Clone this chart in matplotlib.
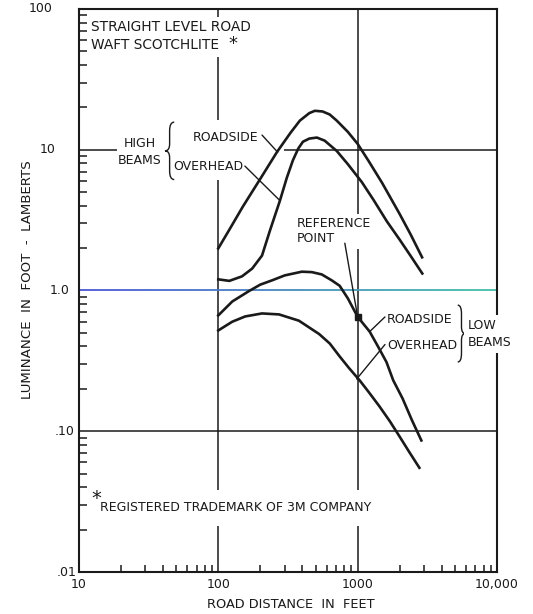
import matplotlib
matplotlib.use("Agg")
import matplotlib.pyplot as plt
import numpy as np
from matplotlib.path import Path
from matplotlib.patches import PathPatch, Rectangle
from matplotlib.collections import LineCollection
from matplotlib.colors import to_rgb

# high beams, roadside mounted sign
high_road_ft = [100, 120, 150, 200, 265, 330, 385, 450, 493, 560, 630, 708, 850, 1000, 1200, 1500, 2000, 2400, 2900]
high_road_lum = [1.99, 2.7, 3.94, 6.2, 9.7, 13.2, 16.1, 18.2, 18.9, 18.7, 17.8, 16.1, 13.4, 11.0, 8.3, 5.8, 3.5, 2.5, 1.72]

# high beams, overhead sign
high_over_ft = [100, 120, 148, 175, 206, 235, 277, 310, 343, 375, 405, 450, 510, 580, 708, 850, 1070, 1300, 1620, 2000, 2400, 2910]
high_over_lum = [1.2, 1.17, 1.26, 1.43, 1.77, 2.67, 4.35, 6.3, 8.4, 10.2, 11.4, 12.0, 12.2, 11.6, 9.8, 7.9, 5.9, 4.4, 3.1, 2.3, 1.76, 1.32]

# low beams, roadside
low_road_ft = [100, 126, 166, 200, 243, 300, 398, 470, 553, 652, 743, 850, 1000, 1220, 1400, 1610, 1800, 2100, 2450, 2865]
low_road_lum = [0.665, 0.835, 0.99, 1.1, 1.18, 1.28, 1.36, 1.35, 1.30, 1.18, 1.08, 0.88, 0.65, 0.51, 0.40, 0.31, 0.23, 0.171, 0.12, 0.086]

# low beams, overhead
low_over_ft = [100, 126, 156, 206, 273, 379, 530, 631, 743, 870, 1033, 1200, 1435, 1700, 1995, 2350, 2773]
low_over_lum = [0.52, 0.60, 0.654, 0.687, 0.676, 0.61, 0.49, 0.42, 0.34, 0.28, 0.23, 0.19, 0.150, 0.118, 0.092, 0.071, 0.055]

ref_point = (1000, 0.65)

x_ticks = [10, 100, 1000, 10000]
x_labels = ["10", "100", "1000", "10,000"]
y_ticks = [100, 10, 1, 0.1, 0.01]
y_labels = ["100", "10", "1.0", ".10", ".01"]

ink = "#1a1a1a"
plt.rcParams["font.family"] = "DejaVu Sans"
plt.rcParams["font.size"] = 9

fig = plt.figure(figsize=(5.33, 6.14), dpi=100)
ax = fig.add_axes([0.148, 0.0684, 0.7845, 0.917])
ax.set_xscale("log")
ax.set_yscale("log")
ax.set_xlim(10, 10000)
ax.set_ylim(0.01, 100)

for s in ax.spines.values():
    s.set_linewidth(1.5)
    s.set_color(ink)

# decade grid
ax.axvline(100, color=ink, lw=1.1, zorder=1)
ax.axvline(1000, color=ink, lw=1.1, zorder=1)
ax.axhline(0.1, color=ink, lw=1.1, zorder=1)
ax.axhline(10, color=ink, lw=1.1, zorder=1)

# 1.0 line, blue fading to teal
xs = np.linspace(0, 1, 60)
segs = [[(xs[i], 1), (xs[i + 1], 1)] for i in range(len(xs) - 1)]
c0, c1 = np.array(to_rgb("#4a55d8")), np.array(to_rgb("#42c2a6"))
cols = [c0 + (c1 - c0) * t for t in xs[:-1]]
ax.add_collection(LineCollection(segs, colors=cols, linewidths=1.3,
                                 transform=ax.get_yaxis_transform(), zorder=1))

# blank areas behind the title block and the high beam labels
ax.add_patch(Rectangle((0.017, 0.915), 0.406, 0.071, transform=ax.transAxes,
                       facecolor="white", edgecolor="none", zorder=1.5))
ax.add_patch(Rectangle((0.09, 0.697), 0.40, 0.105, transform=ax.transAxes,
                       facecolor="white", edgecolor="none", zorder=1.5))

ax.plot(high_road_ft, high_road_lum, color=ink, lw=1.9, zorder=2)
ax.plot(high_over_ft, high_over_lum, color=ink, lw=1.9, zorder=2)
ax.plot(low_road_ft, low_road_lum, color=ink, lw=1.9, zorder=2)
ax.plot(low_over_ft, low_over_lum, color=ink, lw=1.9, zorder=2)
ax.plot(*ref_point, marker="s", ms=4, color=ink, zorder=3)

# ticks
ax.set_xticks(x_ticks)
ax.set_xticklabels(x_labels)
ax.set_yticks(y_ticks)
ax.set_yticklabels([])
ax.tick_params(axis="x", which="major", length=0, pad=4, labelsize=9, colors=ink)
ax.tick_params(axis="y", which="major", length=0)
ax.tick_params(axis="x", which="minor", direction="in", length=5, width=1.1, color=ink)
ax.tick_params(axis="y", which="minor", direction="in", length=5.5, width=1.1, color=ink, labelleft=False)

ylab_x = [-0.062, -0.057, -0.0215, -0.0096, -0.005]
for v, lab, fx in zip(y_ticks, y_labels, ylab_x):
    ax.text(fx, v, lab, transform=ax.get_yaxis_transform(), ha="right", va="center",
            fontsize=9, color=ink)

ax.set_xlabel("ROAD DISTANCE  IN  FEET", color=ink, fontsize=9.3)
ax.xaxis.set_label_coords(0.507, -0.047)
ax.set_ylabel("LUMINANCE  IN  FOOT  -  LAMBERTS", color=ink, fontsize=9.6)
ax.yaxis.set_label_coords(-0.108, 0.519)

white = dict(facecolor="white", edgecolor="none", boxstyle="square,pad=0.3")

ax.text(0.0287, 0.968, "STRAIGHT LEVEL ROAD", transform=ax.transAxes,
        ha="left", va="center", color=ink, fontsize=9.9, zorder=3)
ax.text(0.0287, 0.936, "WAFT SCOTCHLITE", transform=ax.transAxes,
        ha="left", va="center", color=ink, fontsize=9.9, zorder=3)
ax.text(0.369, 0.9535, "*", transform=ax.transAxes, ha="center", va="top",
        fontsize=13, color=ink, zorder=4)

ax.text(0.1447, 0.746, "HIGH\nBEAMS", transform=ax.transAxes, ha="center", va="center",
        linespacing=1.45, color=ink, zorder=3)
ax.text(0.2727, 0.771, "ROADSIDE", transform=ax.transAxes, ha="left", va="center",
        color=ink, zorder=3)
ax.text(0.2249, 0.721, "OVERHEAD", transform=ax.transAxes, ha="left", va="center",
        color=ink, zorder=3)

ax.text(0.5215, 0.605, "REFERENCE\nPOINT", transform=ax.transAxes, ha="left", va="center",
        linespacing=1.2, color=ink, bbox=white)

ax.text(0.737, 0.449, "ROADSIDE", transform=ax.transAxes, ha="left", va="center", color=ink)
ax.text(0.737, 0.403, "OVERHEAD", transform=ax.transAxes, ha="left", va="center", color=ink)
ax.text(0.9306, 0.423, "LOW\nBEAMS", transform=ax.transAxes, ha="left", va="center",
        linespacing=1.45, color=ink, bbox=white, clip_on=False, zorder=4)

ax.text(0.050, 0.1137, "REGISTERED TRADEMARK OF 3M COMPANY", transform=ax.transAxes,
        ha="left", va="center", color=ink,
        bbox=dict(facecolor="white", edgecolor="none", boxstyle="square,pad=0.9"))
ax.text(0.041, 0.131, "*", transform=ax.transAxes, ha="center", va="center",
        fontsize=14, color=ink, zorder=5)

# leader lines
lead = dict(arrowstyle="-", color=ink, lw=1.0, shrinkA=0, shrinkB=0)
ax.annotate("", xy=(267, 9.6), xytext=(0.438, 0.776), textcoords="axes fraction", arrowprops=lead)
ax.annotate("", xy=(277, 4.35), xytext=(0.397, 0.721), textcoords="axes fraction", arrowprops=lead)
ax.annotate("", xy=ref_point, xytext=(0.636, 0.584), textcoords="axes fraction", arrowprops=lead)
ax.annotate("", xy=(1219, 0.51), xytext=(0.732, 0.453), textcoords="axes fraction", arrowprops=lead)
ax.annotate("", xy=(984, 0.235), xytext=(0.732, 0.404), textcoords="axes fraction", arrowprops=lead)


def brace(x_tip, x_end, y_bot, y_top):
    xm = (x_tip + x_end) / 2
    ym = (y_bot + y_top) / 2
    h = y_top - y_bot
    verts = [(x_end, y_top), (xm, y_top), (xm, y_top - 0.15 * h),
             (xm, ym + 0.12 * h), (xm, ym), (x_tip, ym),
             (xm, ym), (xm, ym - 0.12 * h),
             (xm, y_bot + 0.15 * h), (xm, y_bot), (x_end, y_bot)]
    codes = [Path.MOVETO, Path.CURVE3, Path.CURVE3,
             Path.LINETO, Path.CURVE3, Path.CURVE3,
             Path.CURVE3, Path.CURVE3,
             Path.LINETO, Path.CURVE3, Path.CURVE3]
    ax.add_patch(PathPatch(Path(verts, codes), transform=ax.transAxes, fill=False,
                           edgecolor=ink, lw=1.0, zorder=3, clip_on=False))


brace(0.206, 0.228, 0.697, 0.799)
brace(0.924, 0.906, 0.373, 0.474)

fig.savefig("out.png", dpi=100)
